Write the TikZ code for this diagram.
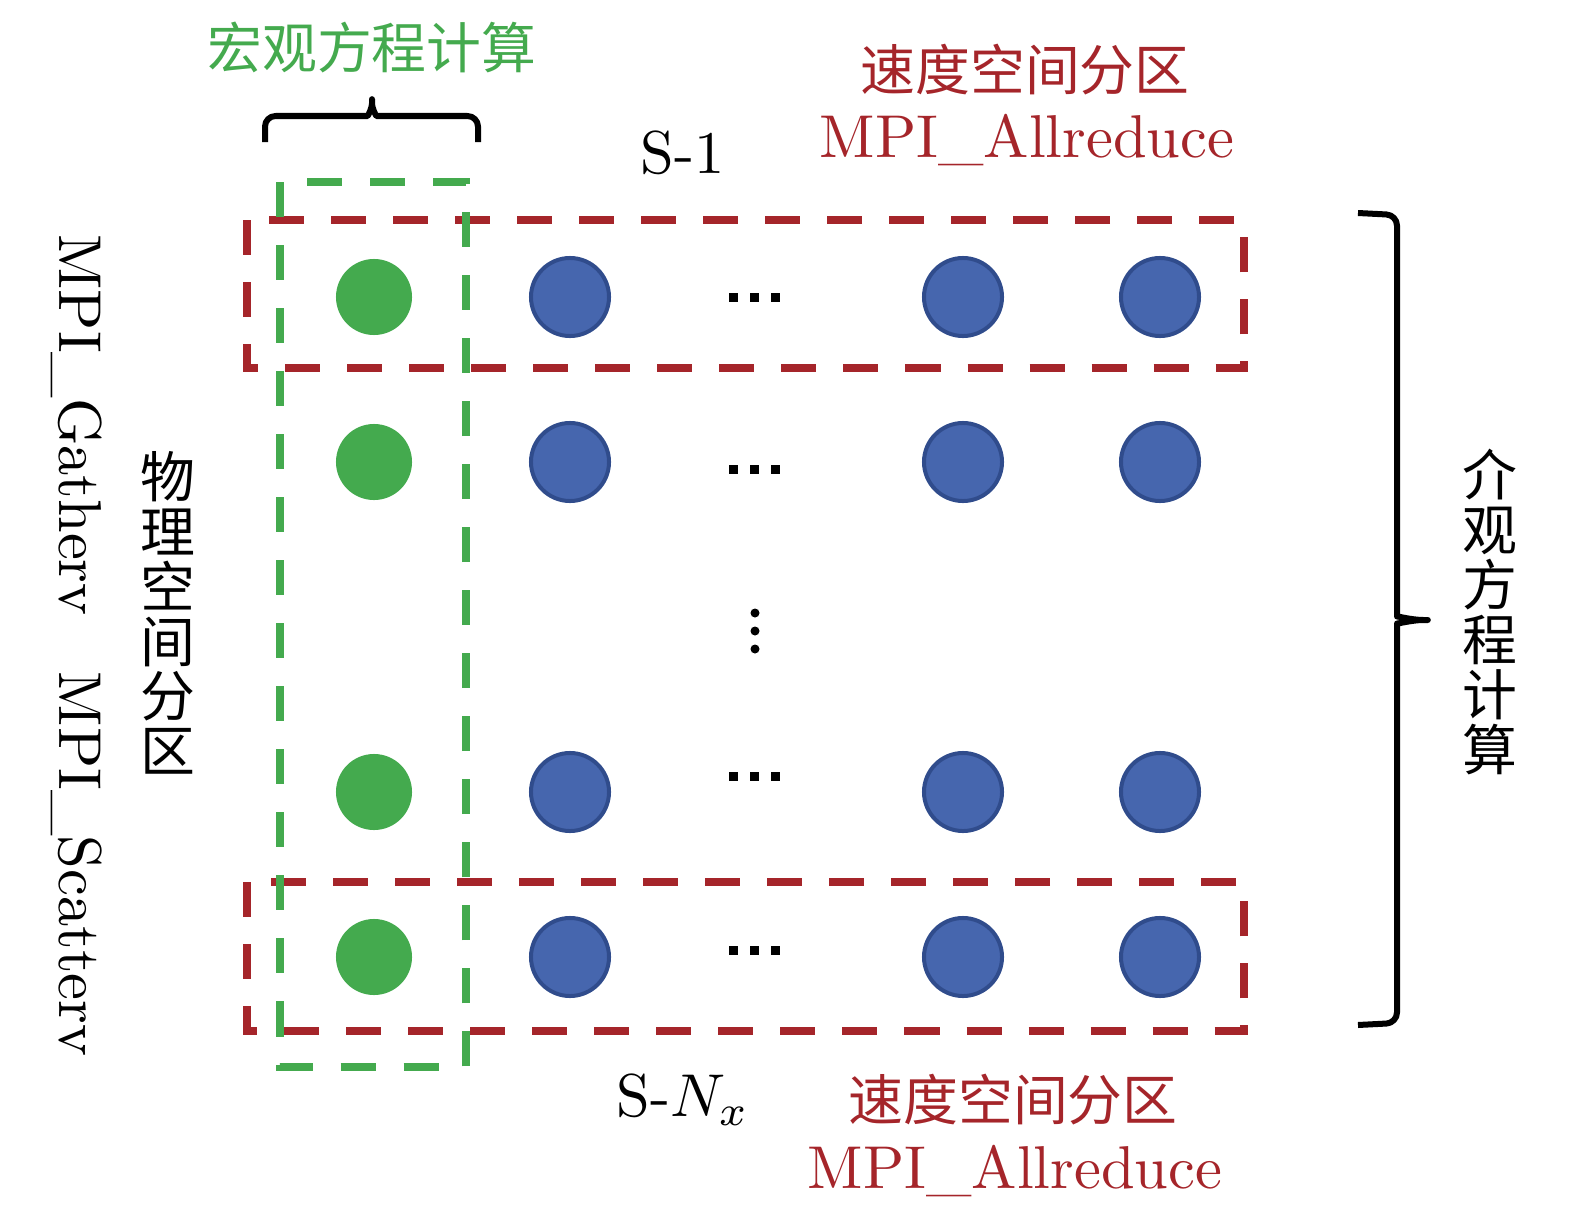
\documentclass[tikz,border=0pt]{standalone}
\usepackage{fontspec}
\newfontfamily\cjk{Noto Sans CJK SC}
\definecolor{macgreen}{RGB}{68,170,78}
\definecolor{velred}{RGB}{165,37,42}
\definecolor{dotblue}{RGB}{70,102,174}
\definecolor{dotedge}{RGB}{48,76,140}

\begin{document}
\begin{tikzpicture}[x=0.01cm, y=-0.01cm,
  gdot/.style={circle, fill=macgreen, minimum size=0.76cm, inner sep=0pt},
  bdot/.style={circle, fill=dotblue, draw=dotedge, line width=0.04cm, minimum size=0.78cm, inner sep=0pt},
  sqdot/.style={fill=black, minimum size=0.09cm, inner sep=0pt},
  rddot/.style={circle, fill=black, minimum size=0.09cm, inner sep=0pt},
  vzone/.style={draw=velred, line width=0.08cm, dash pattern=on 0.35cm off 0.27cm},
  mzone/.style={draw=macgreen, line width=0.08cm, dash pattern=on 0.35cm off 0.28cm},
  brc/.style={line width=0.06cm, line join=round},
  lat/.style={inner sep=0pt, anchor=base, scale=1.72, font=\fontsize{10}{12}\selectfont},
  han/.style={inner sep=0pt, font=\cjk\fontsize{15.6}{15.6}\selectfont},
  stack/.style={han, align=center}]
\useasboundingbox (0,0) rectangle (1575,1230);
\draw[vzone] (247,220) rectangle (1244,368);
\draw[vzone] (247,882) rectangle (1244,1031);
\draw[mzone] (280,182) rectangle (466,1067);
% grid of processes
\foreach \r/\y/\e in {1/297/297, 2/462/469, 3/792/776, 4/957/950}{
  \node[gdot] (g\r) at (374,\y) {};
  \node[bdot] (b\r2) at (570,\y) {};
  \node[bdot] (b\r4) at (963,\y) {};
  \node[bdot] (b\r5) at (1160,\y) {};
  \foreach \k/\x in {1/733,2/754,3/775}
    \node[sqdot] (h\r\k) at (\x,\e) {};
}
\foreach \k/\y in {1/613,2/631,3/649}
  \node[rddot] (v\k) at (755,\y) {};
\node[han, text=macgreen] (mac) at (372,47) {宏观方程计算};
\draw[brc, rounded corners=3pt] (265,142) -- (265,116) -- (357,116) .. controls (368,116) and (372,108) .. (372,93) .. controls (372,108) and (376,116) .. (387,116) -- (478,116) -- (478,142);
\node[lat] (s1) at (683,173) {S-1};
\node[han, text=velred] (v1) at (1025,70) {速度空间分区};
\node[lat, text=velred] (a1) at (1027,157) {MPI\_Allreduce};
\node[lat] (sn) at (683,1116) {S-$N_x$};
\node[han, text=velred] (v2) at (1013,1100) {速度空间分区};
\node[lat, text=velred] (a2) at (1015,1188) {MPI\_Allreduce};
\node[lat, rotate=-90] (gat) at (60,425) {MPI\_Gatherv};
\node[lat, rotate=-90] (sca) at (60,864) {MPI\_Scatterv};
\node[stack] (phys) at (168,613) {物\\理\\空\\间\\分\\区};
\node[stack] (meso) at (1490,612) {介\\观\\方\\程\\计\\算};
\draw[brc, rounded corners=3pt] (1358,213) -- (1397,215) -- (1397,606) .. controls (1397,616) and (1412,620) .. (1434,620) .. controls (1412,620) and (1397,624) .. (1397,634) -- (1397,1023) -- (1358,1025);
\end{tikzpicture}
\end{document}
